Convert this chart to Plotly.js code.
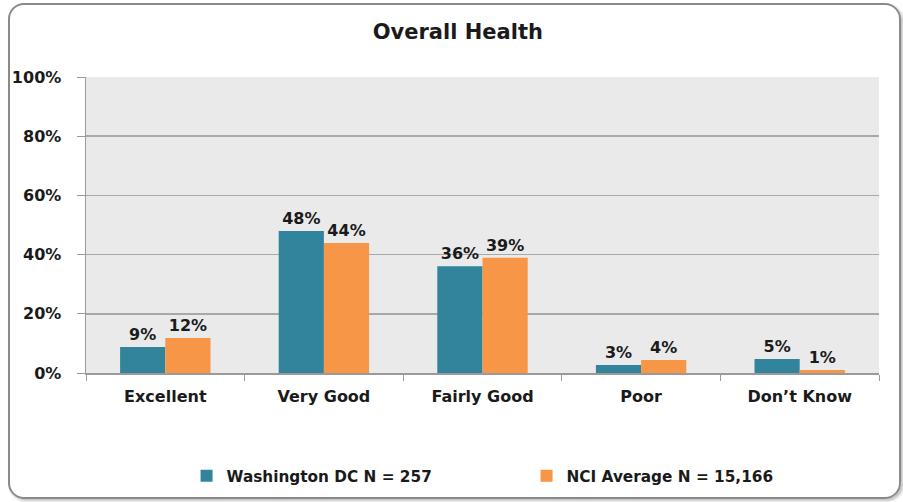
<!DOCTYPE html>
<html>
<head>
<meta charset="utf-8">
<script src="https://cdn.plot.ly/plotly-3.0.1.min.js"></script>
<style>
  html, body { margin: 0; padding: 0; background: #ffffff; }
  #wrap { position: relative; width: 903px; height: 502px; overflow: hidden; }
  #frame { position: absolute; left: 8px; top: 3px; width: 889px; height: 492px;
           border: 2px solid #8a8a8a; border-radius: 16px;
           box-shadow: 2px 2px 3px rgba(0,0,0,0.25); }
  #chart { position: absolute; left: 0; top: 0; width: 903px; height: 502px; }
</style>
</head>
<body>
<div id="wrap">
  <div id="frame"></div>
  <div id="chart"></div>
</div>
<script>
const categories = ["Excellent", "Very Good", "Fairly Good", "Poor", "Don\u2019t Know"];
const dcValues = [0.088, 0.48, 0.361, 0.027, 0.047];
const dcLabels = ["9%", "48%", "36%", "3%", "5%"];
const nciValues = [0.118, 0.439, 0.389, 0.044, 0.010];
const nciLabels = ["12%", "44%", "39%", "4%", "1%"];
const seriesNames = ["Washington DC N = 257", "NCI Average N = 15,166"];

const FONT = "'DejaVu Sans', 'Liberation Sans', sans-serif";
const lblFont = { family: FONT, size: 16, color: "#1a1a1a", weight: 700 };

const traces = [
  { type: "bar", name: seriesNames[0], x: categories, y: dcValues,
    text: dcLabels, textposition: "outside", cliponaxis: false,
    textfont: lblFont, marker: { color: "#31849b" }, hoverinfo: "none" },
  { type: "bar", name: seriesNames[1], x: categories, y: nciValues,
    text: nciLabels, textposition: "outside", cliponaxis: false,
    textfont: lblFont, marker: { color: "#f79646" }, hoverinfo: "none" }
];

const layout = {
  width: 903, height: 502,
  paper_bgcolor: "rgba(0,0,0,0)",
  plot_bgcolor: "#eaeaea",
  margin: { l: 86, r: 24, t: 77, b: 129 },
  font: { family: FONT, color: "#1a1a1a" },
  title: { text: "<b>Overall Health</b>", x: 0.507, xref: "container", xanchor: "center",
           y: 0.937, yref: "container", yanchor: "middle",
           font: { family: FONT, size: 21, color: "#1a1a1a" } },
  barmode: "group",
  bargap: 0.43,
  bargroupgap: 0,
  showlegend: true,
  legend: { orientation: "h", xref: "container", x: 0.2066, xanchor: "left",
            yref: "container", y: 0.052, yanchor: "middle",
            entrywidth: 295, entrywidthmode: "pixels",
            font: { family: FONT, size: 15.3, color: "#1a1a1a", weight: 700 },
            bgcolor: "rgba(0,0,0,0)", traceorder: "normal" },
  xaxis: { type: "category", showline: true, linecolor: "#9a9a9a", linewidth: 1.5,
           ticks: "outside", tickson: "boundaries", ticklen: 6, tickcolor: "#9a9a9a",
           tickfont: { family: FONT, size: 16, color: "#1a1a1a", weight: 700 },
           ticklabelstandoff: 8, showgrid: false, fixedrange: true },
  yaxis: { range: [0, 1], dtick: 0.2, tickformat: ".0%", showline: true,
           linecolor: "#9a9a9a", linewidth: 1.5, ticks: "outside", ticklen: 8,
           tickcolor: "#9a9a9a", showgrid: true, gridcolor: "#a8a8a8", gridwidth: 1.5,
           zeroline: false, ticklabelstandoff: 12,
           tickfont: { family: FONT, size: 16, color: "#1a1a1a", weight: 700 },
           fixedrange: true }
};

Plotly.newPlot("chart", traces, layout, { displayModeBar: false, staticPlot: true });
</script>
</body>
</html>
